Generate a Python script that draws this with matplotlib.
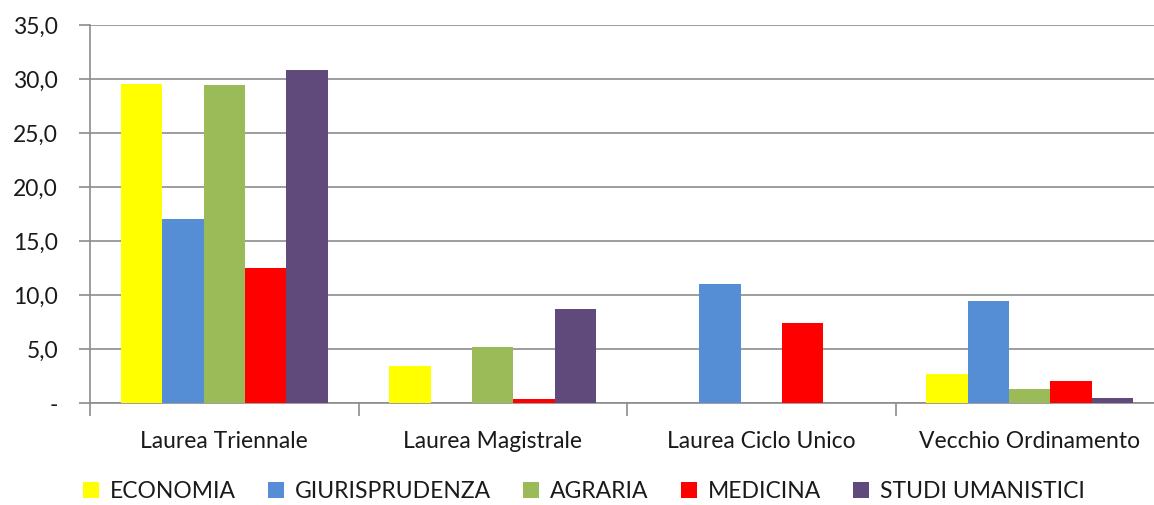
import matplotlib
matplotlib.use('Agg')
import matplotlib.pyplot as plt
from matplotlib.patches import Patch
import numpy as np

CATEGORIES = ['Laurea Triennale', 'Laurea Magistrale', 'Laurea Ciclo Unico', 'Vecchio Ordinamento']
SERIES = ['ECONOMIA', 'GIURISPRUDENZA', 'AGRARIA', 'MEDICINA', 'STUDI UMANISTICI']
COLORS = ['#FFFF00', '#558ED5', '#9BBB59', '#FF0000', '#604A7B']

economia = [29.5, 3.4, 0.0, 2.7]
giurisprudenza = [17.0, 0.0, 11.0, 9.4]
agraria = [29.4, 5.2, 0.0, 1.3]
medicina = [12.5, 0.4, 7.4, 2.0]
studi_umanistici = [30.8, 8.7, 0.0, 0.5]

Y_TICKS = [0, 5, 10, 15, 20, 25, 30, 35]

plt.rcParams['font.family'] = ['Lato', 'DejaVu Sans']
FS = 16.5
TXT = '#1a1a1a'
AXC = '#8c8c8c'

fig = plt.figure(figsize=(11.54, 5.05), dpi=100)
ax = fig.add_axes([90 / 1154, 102 / 505, 1074 / 1154, 378 / 505])

values = [economia, giurisprudenza, agraria, medicina, studi_umanistici]
x = np.arange(len(CATEGORIES))
bw = 0.154
for i, (vals, col) in enumerate(zip(values, COLORS)):
    offs = (i - 2) * bw
    ax.bar(x + offs, vals, width=bw, color=col, edgecolor='none', zorder=3)

ax.set_xlim(-0.5, len(CATEGORIES) - 0.5)
ax.set_ylim(0, 35)
ax.set_yticks(Y_TICKS)
ax.set_yticklabels(['-' if t == 0 else f'{t:.1f}'.replace('.', ',') for t in Y_TICKS])
ax.yaxis.grid(True, color=AXC, linewidth=1.2, zorder=0)
ax.set_axisbelow(True)

# category separators as major ticks, names as minor ticks
ax.set_xticks(np.arange(-0.5, len(CATEGORIES), 1.0))
ax.set_xticklabels([])
ax.set_xticks(x, minor=True)
ax.set_xticklabels(CATEGORIES, minor=True)
ax.tick_params(axis='x', which='minor', length=0, pad=20, labelsize=FS, colors=TXT)
ax.tick_params(axis='x', which='major', length=9, color=AXC, width=1.2)
ax.tick_params(axis='y', length=8, color=AXC, width=1.2, labelsize=FS, labelcolor=TXT, pad=15)

for s in ['top', 'right']:
    ax.spines[s].set_visible(False)
for s in ['left', 'bottom']:
    ax.spines[s].set_color(AXC)
    ax.spines[s].set_linewidth(1.2)

handles = [Patch(facecolor=c, edgecolor='none') for c in COLORS]
fig.legend(handles, SERIES, loc='center', bbox_to_anchor=(0.506, 0.026), ncol=5, frameon=False,
           fontsize=FS, handlelength=0.7, handleheight=0.7, handletextpad=0.48, columnspacing=1.4,
           labelcolor=TXT, borderpad=0)

fig.savefig('out.png', dpi=100, facecolor='white')
